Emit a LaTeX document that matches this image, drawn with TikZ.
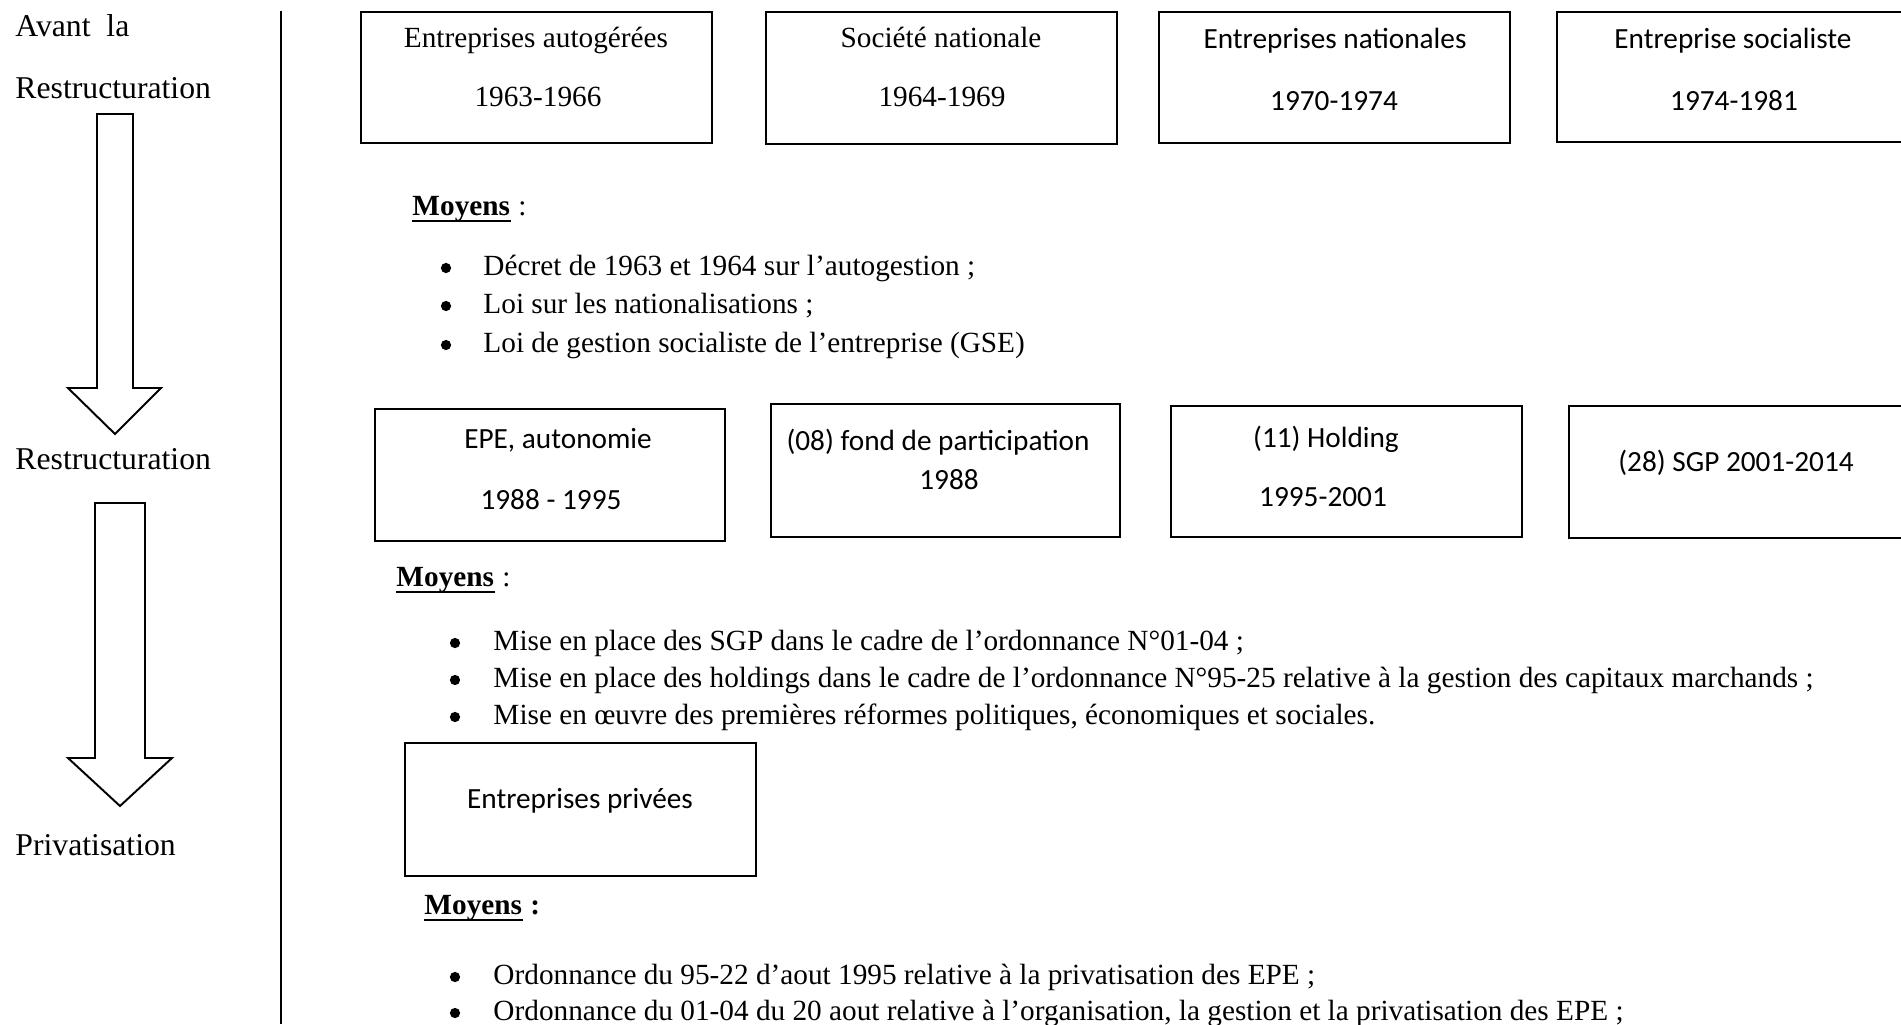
\documentclass[tikz,border=0pt]{standalone}
\usepackage{fontspec}
\setmainfont{Liberation Serif}
\newfontfamily\calibri{Carlito}
\usetikzlibrary{calc,fit}
\begin{document}
\begin{tikzpicture}[x=0.41pt,y=-0.41pt,
  frame/.style={draw=black, line width=0.8pt, inner sep=0pt},
  stage/.style={anchor=base west, inner sep=0pt, font=\fontsize{13}{15}\selectfont},
  serifbox/.style={anchor=base, inner sep=0pt, font=\fontsize{12}{14}\selectfont},
  sansbox/.style={anchor=base, inner sep=0pt, font=\calibri\fontsize{12}{14}\selectfont},
  body/.style={anchor=base west, inner sep=0pt, font=\fontsize{12}{14}\selectfont},
  blockarrow/.style={draw=black, line width=0.8pt, line join=miter},
  uline/.style={line width=0.75pt},
  bulletdot/.style={fill=black}]

\useasboundingbox (0,0) rectangle (1901,1024);
\clip (0,0) rectangle (1901,1024);

% ---- left column: stages and block arrows ----
\node[stage] (s1) at (15,36) {Avant\ \ la};
\node[stage] (s2) at (15,98) {Restructuration};
\node[stage] (s3) at (15,469) {Restructuration};
\node[stage] (s4) at (15,855) {Privatisation};

\draw[blockarrow] (97,114) -- (133,114) -- (133,388) -- (161,388) -- (115,434)
  -- (68,388) -- (97,388) -- cycle;
\draw[blockarrow] (95,503) -- (145,503) -- (145,758) -- (172,758) -- (120,806)
  -- (68,758) -- (95,758) -- cycle;

% separator
\draw[line width=0.45pt] (281,11) -- (281,1024);

% ---- first period ----
\node[frame, fit={(361,12) (712,143)}] (b1) {};
\node[serifbox] (b1a) at (536,47) {Entreprises autogérées};
\node[serifbox] (b1b) at (538,106) {1963-1966};

\node[frame, fit={(766,12) (1117,144)}] (b2) {};
\node[serifbox] (b2a) at (941,47) {Société nationale};
\node[serifbox] (b2b) at (942,106) {1964-1969};

\node[frame, fit={(1159,12) (1510,143)}] (b3) {};
\node[sansbox] (b3a) at (1335,48) {Entreprises nationales};
\node[sansbox] (b3b) at (1334,110) {1970-1974};

\node[frame, fit={(1557,12) (1910,142)}] (b4) {};
\node[sansbox] (b4a) at (1733,48) {Entreprise socialiste};
\node[sansbox] (b4b) at (1734,110) {1974-1981};

\node[body] (m1) at (412,215) {\textbf{Moyens}};
\node[body] (m1c) at (m1.base east) {\hspace{3pt}:};
\draw[uline] ($(m1.base west)+(0,6)$) -- ($(m1.base east)+(0,6)$);

\fill[bulletdot] (446,268) circle[radius=2.1pt];
\node[body] (l1a) at (483,275) {Décret de 1963 et 1964 sur l’autogestion ;};
\fill[bulletdot] (446,306) circle[radius=2.1pt];
\node[body] (l1b) at (483,313) {Loi sur les nationalisations ;};
\fill[bulletdot] (446,345) circle[radius=2.1pt];
\node[body] (l1c) at (483,352) {Loi de gestion socialiste de l’entreprise (GSE)};

% ---- restructuring period ----
\node[frame, fit={(375,409) (725,541)}] (c1) {};
\node[sansbox] (c1a) at (558,448) {EPE, autonomie};
\node[sansbox] (c1b) at (551,509) {1988 - 1995};

\node[frame, fit={(771,404) (1120,537)}] (c2) {};
\node[sansbox] (c2a) at (938,450) {(08) fond de participation};
\node[sansbox] (c2b) at (949,489) {1988};

\node[frame, fit={(1171,406) (1522,537)}] (c3) {};
\node[sansbox] (c3a) at (1326,447) {(11) Holding};
\node[sansbox] (c3b) at (1323,506) {1995-2001};

\node[frame, fit={(1569,406) (1920,538)}] (c4) {};
\node[sansbox] (c4a) at (1736,471) {(28) SGP 2001-2014};

\node[body] (m2) at (396,586) {\textbf{Moyens}};
\node[body] (m2c) at (m2.base east) {\hspace{3pt}:};
\draw[uline] ($(m2.base west)+(0,6)$) -- ($(m2.base east)+(0,6)$);

\fill[bulletdot] (455,643) circle[radius=2.1pt];
\node[body] (l2a) at (493,650) {Mise en place des SGP dans le cadre de l’ordonnance N°01-04 ;};
\fill[bulletdot] (455,680) circle[radius=2.1pt];
\node[body] (l2b) at (493,687) {Mise en place des holdings dans le cadre de l’ordonnance N°95-25 relative à la gestion des capitaux marchands ;};
\fill[bulletdot] (455,717) circle[radius=2.1pt];
\node[body] (l2c) at (493,724) {Mise en œuvre des premières réformes politiques, économiques et sociales.};

% ---- privatisation ----
\node[frame, fit={(405,743) (756,876)}] (d1) {};
\node[sansbox] (d1a) at (580,808) {Entreprises privées};

\node[body] (m3) at (424,914) {\textbf{Moyens}};
\node[body] (m3c) at (m3.base east) {\hspace{3pt}\textbf{:}};
\draw[uline] ($(m3.base west)+(0,6)$) -- ($(m3.base east)+(0,6)$);

\fill[bulletdot] (455,977) circle[radius=2.1pt];
\node[body] (l3a) at (493,984) {Ordonnance du 95-22 d’aout 1995 relative à la privatisation des EPE ;};
\fill[bulletdot] (455,1013) circle[radius=2.1pt];
\node[body] (l3b) at (493,1020) {Ordonnance du 01-04 du 20 aout relative à l’organisation, la gestion et la privatisation des EPE ;};
\end{tikzpicture}
\end{document}
